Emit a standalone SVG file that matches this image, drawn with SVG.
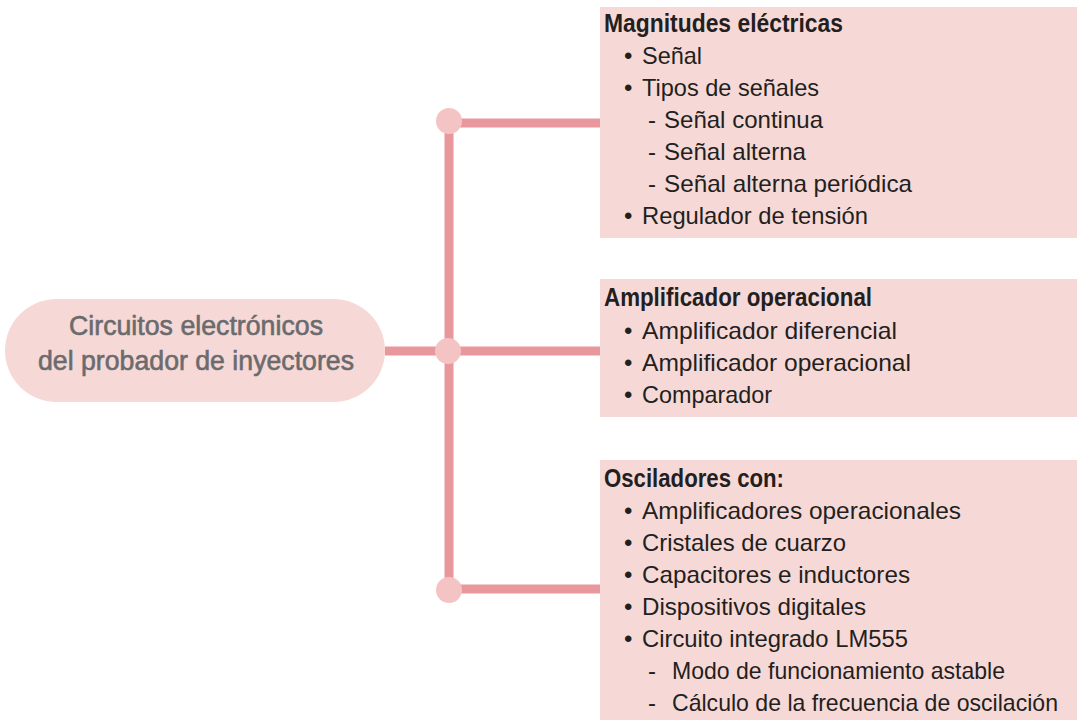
<svg xmlns="http://www.w3.org/2000/svg" width="1077" height="720" viewBox="0 0 1077 720">
<style>
.box{fill:#f6d9d7}
.ln{stroke:#e8989c;stroke-width:9;fill:none}
.dot{fill:#f4c4c4}
text{font-family:"Liberation Sans",Arial,sans-serif;fill:#231f20;font-size:24px}
.t{font-weight:bold;font-size:25px}
.c{fill:#6b6b6d;font-size:27px;text-anchor:middle;stroke:#6b6b6d;stroke-width:0.6}
</style>
<rect width="1077" height="720" fill="#ffffff"/>
<g id="connectors">
<path class="ln" d="M449 121 V590"/>
<path class="ln" d="M449 123 H600"/>
<path class="ln" d="M385 351 H600"/>
<path class="ln" d="M449 589 H600"/>
<circle class="dot" cx="449" cy="121" r="13"/>
<circle class="dot" cx="448" cy="351" r="13"/>
<circle class="dot" cx="449" cy="590" r="13"/>
</g>
<g id="center">
<rect class="box" x="5" y="299" width="380" height="103" rx="51.5"/>
<text class="c" x="196" y="335" textLength="254" lengthAdjust="spacingAndGlyphs">Circuitos electrónicos</text>
<text class="c" x="196" y="370" textLength="316" lengthAdjust="spacingAndGlyphs">del probador de inyectores</text>
</g>
<g id="box1">
<rect class="box" x="600" y="7" width="477" height="231"/>
<text class="t" x="604" y="32" textLength="239" lengthAdjust="spacingAndGlyphs">Magnitudes eléctricas</text>
<text x="624" y="64">•</text><text x="642" y="64" textLength="60" lengthAdjust="spacingAndGlyphs">Señal</text>
<text x="624" y="96">•</text><text x="642" y="96" textLength="177" lengthAdjust="spacingAndGlyphs">Tipos de señales</text>
<text x="648" y="128">-</text><text x="664" y="128" textLength="159" lengthAdjust="spacingAndGlyphs">Señal continua</text>
<text x="648" y="160">-</text><text x="664" y="160" textLength="142" lengthAdjust="spacingAndGlyphs">Señal alterna</text>
<text x="648" y="192">-</text><text x="664" y="192" textLength="248" lengthAdjust="spacingAndGlyphs">Señal alterna periódica</text>
<text x="624" y="224">•</text><text x="642" y="224" textLength="226" lengthAdjust="spacingAndGlyphs">Regulador de tensión</text>
</g>
<g id="box2">
<rect class="box" x="600" y="279" width="477" height="138"/>
<text class="t" x="604" y="306" textLength="268" lengthAdjust="spacingAndGlyphs">Amplificador operacional</text>
<text x="624" y="339">•</text><text x="642" y="339" textLength="255" lengthAdjust="spacingAndGlyphs">Amplificador diferencial</text>
<text x="624" y="371">•</text><text x="642" y="371" textLength="269" lengthAdjust="spacingAndGlyphs">Amplificador operacional</text>
<text x="624" y="403">•</text><text x="642" y="403" textLength="130" lengthAdjust="spacingAndGlyphs">Comparador</text>
</g>
<g id="box3">
<rect class="box" x="600" y="460" width="477" height="260"/>
<text class="t" x="604" y="487" textLength="180" lengthAdjust="spacingAndGlyphs">Osciladores con:</text>
<text x="624" y="519">•</text><text x="642" y="519" textLength="319" lengthAdjust="spacingAndGlyphs">Amplificadores operacionales</text>
<text x="624" y="551">•</text><text x="642" y="551" textLength="204" lengthAdjust="spacingAndGlyphs">Cristales de cuarzo</text>
<text x="624" y="583">•</text><text x="642" y="583" textLength="268" lengthAdjust="spacingAndGlyphs">Capacitores e inductores</text>
<text x="624" y="615">•</text><text x="642" y="615" textLength="224" lengthAdjust="spacingAndGlyphs">Dispositivos digitales</text>
<text x="624" y="647">•</text><text x="642" y="647" textLength="266" lengthAdjust="spacingAndGlyphs">Circuito integrado LM555</text>
<text x="648" y="679">-</text><text x="672" y="679" textLength="333" lengthAdjust="spacingAndGlyphs">Modo de funcionamiento astable</text>
<text x="648" y="711">-</text><text x="672" y="711" textLength="386" lengthAdjust="spacingAndGlyphs">Cálculo de la frecuencia de oscilación</text>
</g>
</svg>
